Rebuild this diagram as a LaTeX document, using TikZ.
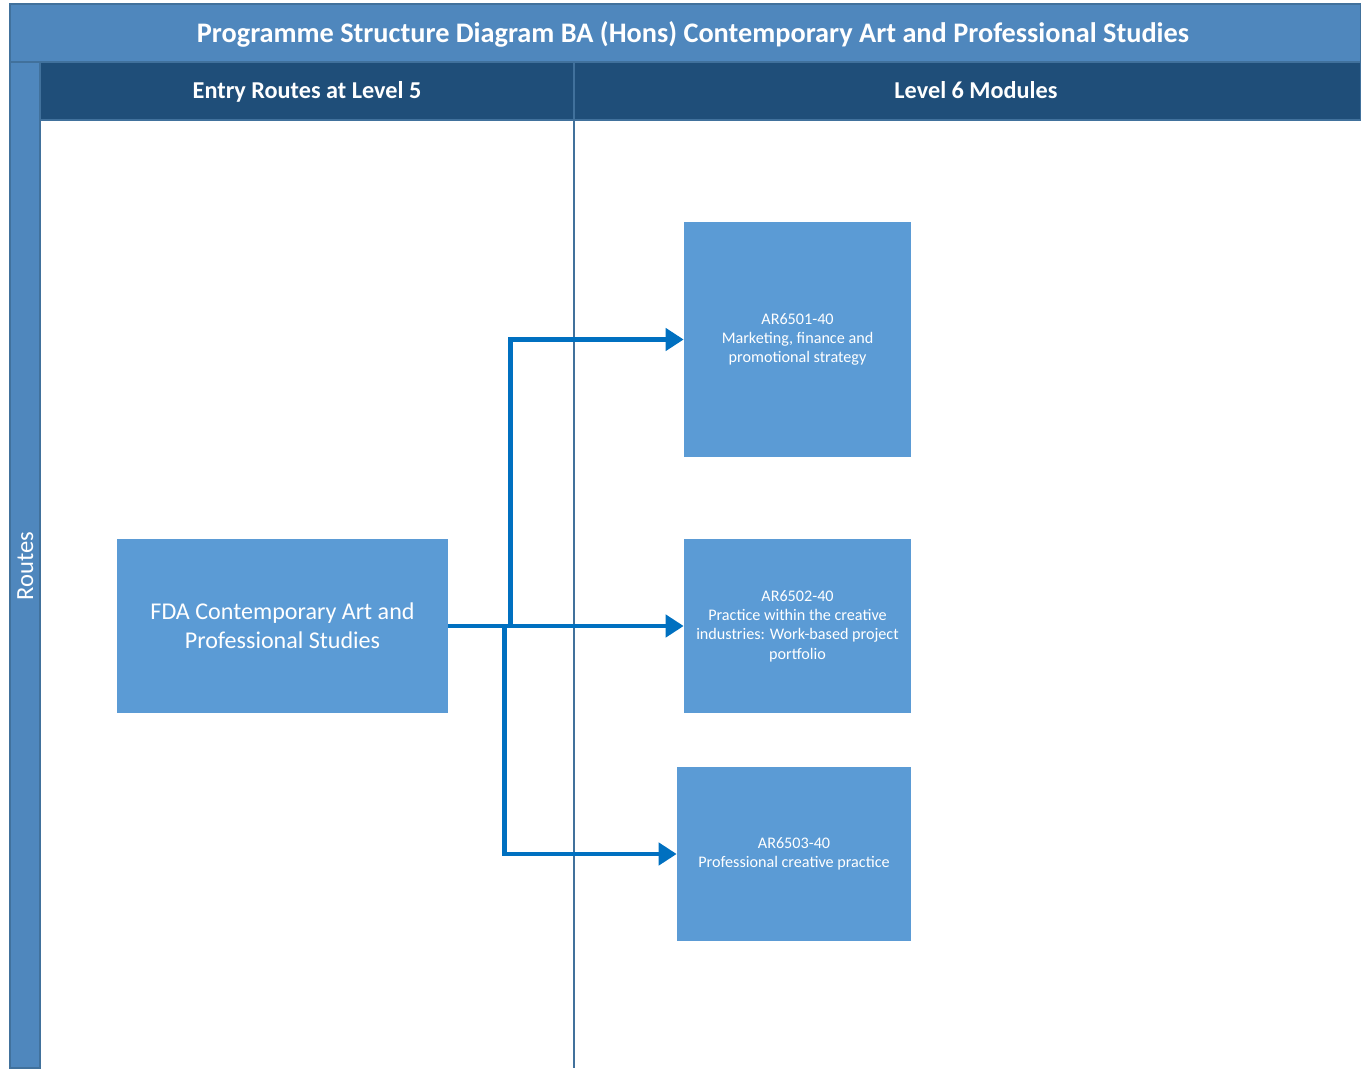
\documentclass[tikz,border=0pt]{standalone}
\usepackage{fontspec}
\setmainfont{Carlito}
\usetikzlibrary{arrows.meta}

\begin{document}
\begin{tikzpicture}[x=0.02cm, y=-0.02cm,
  modbox/.style={fill=colBox, text=white, align=center, inner sep=0pt,
    font=\fontsize{9.2}{11}\selectfont},
  headtext/.style={text=white, text height=1.6ex, text depth=0.4ex},
  flow/.style={colFlow, line width=2.5pt,
    -{Triangle[length=0.36cm,width=0.44cm]}}]

% Colori
\definecolor{colTitle}{HTML}{4F87BD}
\definecolor{colHead}{HTML}{1F4E79}
\definecolor{colBox}{HTML}{5B9BD5}
\definecolor{colFlow}{HTML}{0070C0}
\definecolor{colLine}{HTML}{41719C}

\useasboundingbox (0,0) rectangle (1361,1068);

% Titolo
\path[fill=colTitle, draw=colLine, line width=0.8pt] (10,4) rectangle (1361,62);
\node[headtext, font=\fontsize{16.1}{19}\selectfont\bfseries] (title) at (693,37)
  {Programme Structure Diagram BA (Hons) Contemporary Art and Professional Studies};

% Intestazioni delle corsie
\path[fill=colHead, draw=colLine, line width=0.8pt] (40,62) rectangle (1361,120);
\node[headtext, font=\fontsize{13.8}{16}\selectfont\bfseries] (entry) at (307,93) {Entry Routes at Level 5};
\node[headtext, font=\fontsize{13.8}{16}\selectfont\bfseries] (level6) at (976,93) {Level 6 Modules};

% Fascia laterale
\path[fill=colTitle, draw=colLine, line width=0.8pt] (10,62) rectangle (40,1068);
\node[rotate=90, headtext, font=\fontsize{14}{16}\selectfont] (routes) at (28,566) {Routes};

% Separatore
\draw[colLine, line width=1pt] (574,62) -- (574,1068);

% Moduli
\node[modbox, minimum width=6.62cm, minimum height=3.48cm,
  font=\fontsize{13.7}{16.5}\selectfont] (fda) at (282.5,626)
  {FDA Contemporary Art and\\Professional Studies};
\node[modbox, minimum width=4.54cm, minimum height=4.70cm] (m1) at (797.5,339.5)
  {AR6501-40\\Marketing, finance and\\promotional strategy};
\node[modbox, minimum width=4.54cm, minimum height=3.48cm] (m2) at (797.5,626)
  {AR6502-40\\Practice within the creative\\industries: Work-based project\\portfolio};
\node[modbox, minimum width=4.68cm, minimum height=3.48cm] (m3) at (794,854)
  {AR6503-40\\Professional creative practice};

% Collegamenti
\draw[flow] (fda.east) -- ++(62,0) |- (m1.west);
\draw[flow] (fda.east) -- (m2.west);
\draw[flow] (fda.east) -- ++(56,0) |- (m3.west);

\end{tikzpicture}
\end{document}
